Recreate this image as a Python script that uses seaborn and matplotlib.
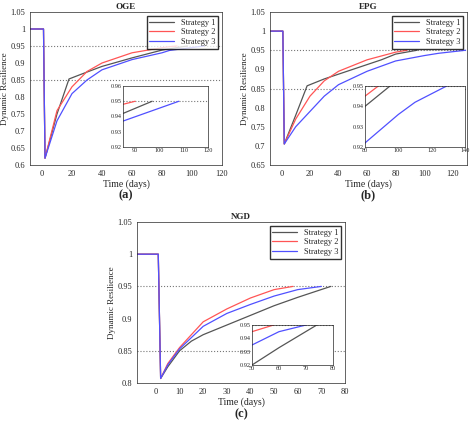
import numpy as np
import pandas as pd
import seaborn as sns
import matplotlib
matplotlib.use('Agg')
import matplotlib.pyplot as plt

sns.set_style('white')
plt.rcParams['font.family'] = ['Liberation Serif', 'DejaVu Serif']

strategies = ['Strategy 1', 'Strategy 2', 'Strategy 3']
colors = ['#555555', '#ff5555', '#5050ff']

# OGE
oge_x = [[-8, 1, 2, 10, 18, 25, 40, 60, 80, 85, 97],
         [-8, 1, 2, 10, 20, 30, 40, 60, 80, 85, 90],
         [-8, 1, 2, 10, 20, 30, 40, 60, 80, 85, 108]]
oge_y = [[1, 1, 0.62, 0.75, 0.853, 0.865, 0.89, 0.915, 0.938, 0.942, 0.95],
         [1, 1, 0.62, 0.76, 0.83, 0.875, 0.90, 0.93, 0.945, 0.948, 0.95],
         [1, 1, 0.62, 0.73, 0.81, 0.85, 0.88, 0.91, 0.93, 0.937, 0.95]]
# EPG
epg_x = [[-8, 1, 2, 10, 18, 30, 50, 70, 80, 95],
         [-8, 1, 2, 10, 20, 30, 40, 60, 80, 88],
         [-8, 1, 2, 10, 20, 30, 40, 60, 80, 100, 110, 129]]
epg_y = [[1, 1, 0.705, 0.78, 0.857, 0.875, 0.90, 0.925, 0.94, 0.95],
         [1, 1, 0.705, 0.77, 0.83, 0.87, 0.895, 0.925, 0.945, 0.95],
         [1, 1, 0.705, 0.75, 0.79, 0.83, 0.86, 0.895, 0.922, 0.936, 0.942, 0.95]]
# NGD
ngd_x = [[-8, 1, 2, 5, 10, 15, 20, 30, 40, 50, 60, 74],
         [-8, 1, 2, 5, 10, 20, 30, 40, 50, 58],
         [-8, 1, 2, 5, 10, 20, 30, 40, 50, 60, 70]]
ngd_y = [[1, 1, 0.807, 0.825, 0.85, 0.865, 0.875, 0.89, 0.905, 0.92, 0.933, 0.95],
         [1, 1, 0.807, 0.83, 0.855, 0.895, 0.915, 0.932, 0.945, 0.95],
         [1, 1, 0.807, 0.828, 0.853, 0.888, 0.908, 0.922, 0.935, 0.945, 0.95]]

panels = [
    dict(title='OGE', xs=oge_x, ys=oge_y, xlim=(-8, 120), ylim=(0.6, 1.05),
         yt=[0.6, 0.65, 0.7, 0.75, 0.8, 0.85, 0.9, 0.95, 1, 1.05], xt=[0, 20, 40, 60, 80, 100, 120],
         ixlim=(85, 120), iylim=(0.92, 0.96), iyt=[0.92, 0.93, 0.94, 0.95, 0.96], ixt=[90, 100, 110, 120],
         rect=[30, 12, 222, 165], irect=[123, 86, 208, 147], lab='(a)'),
    dict(title='EPG', xs=epg_x, ys=epg_y, xlim=(-8, 130), ylim=(0.65, 1.05),
         yt=[0.65, 0.7, 0.75, 0.8, 0.85, 0.9, 0.95, 1, 1.05], xt=[0, 20, 40, 60, 80, 100, 120],
         ixlim=(80, 140), iylim=(0.92, 0.95), iyt=[0.92, 0.93, 0.94, 0.95], ixt=[80, 100, 120, 140],
         rect=[270, 12, 467, 165], irect=[365, 86, 465, 147], lab='(b)'),
    dict(title='NGD', xs=ngd_x, ys=ngd_y, xlim=(-8, 80), ylim=(0.8, 1.05),
         yt=[0.8, 0.85, 0.9, 0.95, 1, 1.05], xt=[0, 10, 20, 30, 40, 50, 60, 70, 80],
         ixlim=(50, 80), iylim=(0.92, 0.95), iyt=[0.92, 0.93, 0.94, 0.95], ixt=[50, 60, 70, 80],
         rect=[137, 222, 345, 383], irect=[252, 325, 333, 365], lab='(c)'),
]

W, H = 474, 425
fig = plt.figure(figsize=(W / 100, H / 100), dpi=100)


def to_fig(r):
    x0, y0, x1, y1 = r
    return [x0 / W, 1 - y1 / H, (x1 - x0) / W, (y1 - y0) / H]


def draw(ax, p, lw):
    for i, s in enumerate(strategies):
        d = pd.DataFrame({'x': p['xs'][i], 'y': p['ys'][i]})
        sns.lineplot(data=d, x='x', y='y', ax=ax, color=colors[i], lw=lw, label=s, sort=False)
    for yy in (0.95, 0.85):
        ax.axhline(yy, color='#777777', ls=':', lw=0.8, zorder=0)


for p in panels:
    ax = fig.add_axes(to_fig(p['rect']))
    draw(ax, p, 0.9)
    ax.set_xlim(p['xlim'])
    ax.set_ylim(p['ylim'])
    ax.set_xticks(p['xt'])
    ax.set_yticks(p['yt'])
    ax.set_yticklabels([f'{v:g}' for v in p['yt']])
    ax.tick_params(labelsize=6, length=2, direction='in')
    ax.set_title(p['title'], fontsize=6.5, fontweight='bold', pad=2)
    ax.set_xlabel('Time (days)', fontsize=7, labelpad=1)
    ax.set_ylabel('Dynamic Resilience', fontsize=6.5, labelpad=1)
    ax.legend(loc='upper right', fontsize=6, frameon=True, fancybox=False,
              edgecolor='black', handlelength=3, borderpad=0.3, labelspacing=0.2)
    for sp in ax.spines.values():
        sp.set_linewidth(0.5)
    ax.text(0.5, -0.16, p['lab'], transform=ax.transAxes, ha='center', va='top',
            fontsize=9, fontweight='bold')

    ins = fig.add_axes(to_fig(p['irect']))
    draw(ins, p, 0.9)
    ins.get_legend().remove()
    ins.set_xlim(p['ixlim'])
    ins.set_ylim(p['iylim'])
    ins.set_xticks(p['ixt'])
    ins.set_yticks(p['iyt'])
    ins.set_xlabel('')
    ins.set_ylabel('')
    ins.tick_params(labelsize=4.5, length=1.5, pad=1, direction='in')
    for sp in ins.spines.values():
        sp.set_linewidth(0.5)

fig.savefig('out.png', dpi=100)
